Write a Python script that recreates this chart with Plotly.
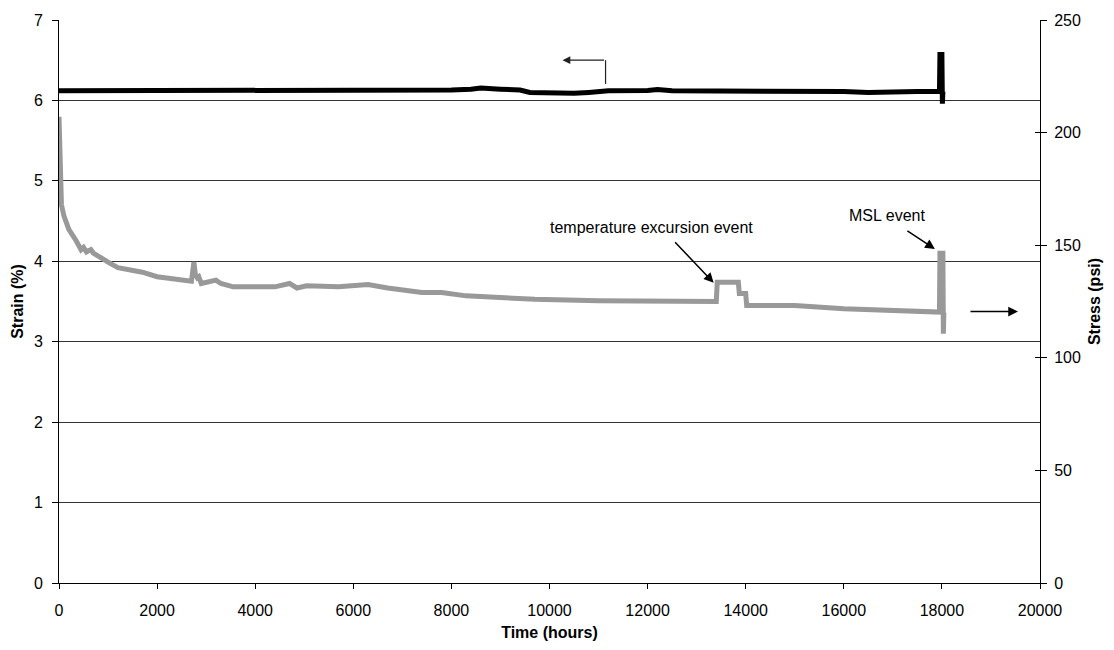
import plotly.graph_objects as go

# ---- data ----
strain_hours = [0, 1000, 2000, 3000, 4000, 5000, 6000, 7000, 8000, 8400, 8600, 9000, 9400,
                9600, 10000, 10500, 10800, 11200, 12000, 12200, 12500, 13000, 14000, 15000,
                16000, 16500, 17000, 17500, 17950, 17960, 18000, 18010, 18020]
strain_pct = [6.12, 6.12, 6.12, 6.12, 6.12, 6.12, 6.12, 6.13, 6.13, 6.14, 6.155, 6.14, 6.13,
              6.10, 6.09, 6.088, 6.10, 6.12, 6.125, 6.135, 6.12, 6.12, 6.12, 6.12,
              6.11, 6.10, 6.11, 6.11, 6.11, 6.57, 6.57, 5.96, 6.11]

stress_hours = [0, 10, 25, 50, 100, 200, 350, 450, 500, 560, 600, 650, 700, 800, 1000, 1200,
                1500, 1700, 2000, 2300, 2700, 2750, 2780, 2820, 2850, 2900, 3000, 3200, 3300,
                3550, 4000, 4400, 4700, 4850, 5050, 5700, 6300, 6700, 7400, 7800, 8300, 9000,
                9700, 11000, 12400, 13300, 13400, 13420, 13850, 13870, 14000, 14020, 15000,
                16000, 17000, 17900, 17950, 17960, 18020, 18030, 18040]
stress_psi = [207, 200, 180, 168, 163, 157, 152, 148, 149, 147, 147.5, 148, 146.5, 145, 142.5,
              140, 139, 138, 136, 135, 134, 142.5, 137, 135.5, 136, 133, 133.5, 134.5, 133,
              131.5, 131.5, 131.5, 133, 131, 132, 131.5, 132.5, 131, 129, 129, 127.5, 126.5,
              126, 125.3, 125.3, 125, 125, 133.5, 133.5, 128.5, 128.5, 123.2, 123.2,
              121.8, 121, 120.3, 120.3, 146.4, 146.4, 110.7, 120]

x_ticks = [0, 2000, 4000, 6000, 8000, 10000, 12000, 14000, 16000, 18000, 20000]
x_tick_labels = ["0", "2000", "4000", "6000", "8000", "10000", "12000", "14000",
                 "16000", "18000", "20000"]
y_ticks = [0, 1, 2, 3, 4, 5, 6, 7]
y2_ticks = [0, 50, 100, 150, 200, 250]

FONT = "Liberation Sans, Arial, sans-serif"
FS = 16

fig = go.Figure()
fig.add_trace(go.Scatter(x=stress_hours, y=stress_psi, yaxis="y2", mode="lines",
                         line=dict(color="#999999", width=5), showlegend=False))
fig.add_trace(go.Scatter(x=strain_hours, y=strain_pct, yaxis="y", mode="lines",
                         line=dict(color="#000000", width=5), showlegend=False))

fig.update_layout(
    width=1114, height=650,
    margin=dict(l=59, r=74, t=17, b=66),
    paper_bgcolor="white", plot_bgcolor="white",
    font=dict(family=FONT, size=FS, color="black"),
    showlegend=False,
    xaxis=dict(range=[0, 20000], tickvals=x_ticks, ticktext=x_tick_labels,
               ticks="outside", ticklen=5, ticklabelstandoff=8,
               tickcolor="black", showline=True, linecolor="black", linewidth=1,
               showgrid=False, zeroline=False,
               title=dict(text="<b>Time (hours)</b>", standoff=8,
                          font=dict(family=FONT, size=FS))),
    yaxis=dict(range=[0, 7], tickvals=y_ticks, ticks="outside", ticklen=6,
               ticklabelstandoff=6,
               tickcolor="black", showline=True, linecolor="black", linewidth=1,
               showgrid=True, gridcolor="#333333", gridwidth=1, zeroline=False,
               title=dict(text="<b>Strain (%)</b>", standoff=6,
                          font=dict(family=FONT, size=FS))),
    yaxis2=dict(range=[0, 250], tickvals=y2_ticks, overlaying="y", side="right",
                anchor="x", ticks="outside", ticklen=6, ticklabelstandoff=4,
                tickcolor="black",
                showline=True, linecolor="black", linewidth=1, showgrid=False,
                zeroline=False,
                title=dict(text="<b>Stress (psi)</b>", standoff=8,
                           font=dict(family=FONT, size=FS))),
    yaxis3=dict(range=[0, 250], tickvals=y2_ticks, overlaying="y", side="right",
                anchor="x", ticks="inside", ticklen=5, tickcolor="black",
                showticklabels=False, showline=False, showgrid=False, zeroline=False),
)

# invisible trace to activate yaxis3 (cross ticks on right axis)
fig.add_trace(go.Scatter(x=[None], y=[None], yaxis="y3", showlegend=False, hoverinfo="skip"))

# text annotations
fig.add_annotation(x=12082, y=4.425, text="temperature excursion event", showarrow=False,
                   font=dict(family=FONT, size=FS), xref="x", yref="y")
fig.add_annotation(x=16878, y=4.57, text="MSL event", showarrow=False,
                   font=dict(family=FONT, size=FS), xref="x", yref="y")

# arrows
arrow_style = dict(text="", showarrow=True, arrowhead=2, arrowsize=1.3, arrowwidth=1.5,
                   arrowcolor="black", xref="x", yref="y")
fig.add_annotation(x=13347, y=3.733, ax=-40, ay=-42, **arrow_style)
fig.add_annotation(x=17857, y=4.153, ax=-29, ay=-19, **arrow_style)
fig.add_annotation(x=19551, y=3.375, ax=-49, ay=0, **arrow_style)
fig.add_annotation(x=10265, y=6.50, ax=43, ay=0, text="", showarrow=True, arrowhead=2,
                   arrowsize=1.3, arrowwidth=1.2, arrowcolor="#222222", xref="x", yref="y")
fig.add_shape(type="line", xref="x", yref="y", x0=11143, x1=11143, y0=6.205, y1=6.50,
              line=dict(color="#222222", width=1.2))

fig.write_html("out.html", config={"displayModeBar": False},
               post_script="document.body.style.margin='0px';document.body.style.overflow='hidden';")
